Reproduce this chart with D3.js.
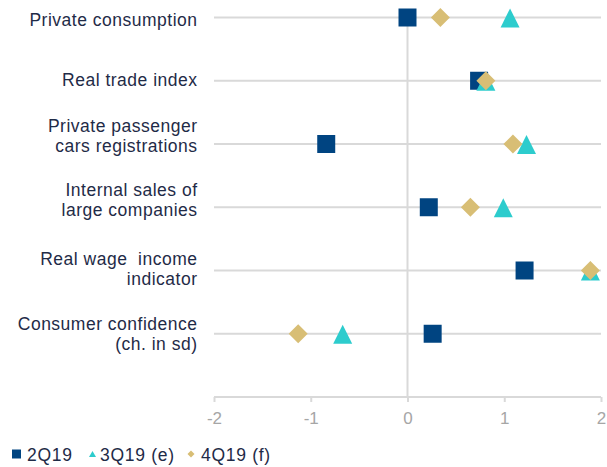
<!DOCTYPE html>
<html>
<head>
<meta charset="utf-8">
<script src="https://cdn.jsdelivr.net/npm/d3@7"></script>
<style>
  body { margin: 0; background: #fff; }
  svg { font-family: "Liberation Sans", Arial, sans-serif; }
  .cat-label { fill: #1f2b47; font-size: 17.5px; letter-spacing: 0.5px; }
  .tick-label { fill: #a6a6a6; font-size: 17px; }
  .legend-text { fill: #1f2b47; font-size: 17.5px; letter-spacing: 0.7px; }
</style>
</head>
<body>
<svg id="chart" width="607" height="467"></svg>
<script>
// Data
const categories = [
    ['Private consumption'],
    ['Real trade index'],
    ['Private passenger', 'cars registrations'],
    ['Internal sales of', 'large companies'],
    ['Real wage  income', 'indicator'],
    ['Consumer confidence', '(ch. in sd)']
];
const q2 = [0.0, 0.74, -0.84, 0.22, 1.21, 0.26];
const q3 = [1.06, 0.81, 1.23, 0.99, 1.89, -0.67];
const q4 = [0.34, 0.81, 1.09, 0.65, 1.89, -1.13];
const xTicks = [-2, -1, 0, 1, 2];
const seriesNames = ['2Q19', '3Q19 (e)', '4Q19 (f)'];

const svg = d3.select('#chart');
const colors = { sq: '#004481', tri: '#2dcccd', dia: '#d8be75' };

const x = d3.scaleLinear().domain([-2, 2]).range([214, 601]);
const y = d3.scaleLinear().domain([0, 6]).range([397, 17.5]);
const rowY = i => y(categories.length - i);

// small vertical nudges so the labels sit like the original
const labelNudge = [2, -1, -8, -7, -2, 0];

// Gridlines
svg.selectAll('.grid')
    .data(categories)
    .enter()
    .append('line')
    .attr('x1', x(-2))
    .attr('x2', x(2))
    .attr('y1', (d, i) => rowY(i))
    .attr('y2', (d, i) => rowY(i))
    .attr('stroke', '#d9d9d9')
    .attr('stroke-width', 2);

// Vertical zero line
svg.append('line')
    .attr('x1', x(0)).attr('x2', x(0))
    .attr('y1', y(6.1)).attr('y2', y(0))
    .attr('stroke', '#d9d9d9')
    .attr('stroke-width', 2);

// X axis
const xAxis = svg.append('g')
    .attr('transform', `translate(0,${y(0)})`)
    .call(d3.axisBottom(x).tickValues(xTicks).tickSize(5).tickFormat(d3.format('d')));
xAxis.select('.domain').attr('stroke', '#d9d9d9').attr('stroke-width', 2).attr('d', `M${x(-2)},0H${x(2)}`);
xAxis.selectAll('.tick line').attr('stroke', '#d9d9d9').attr('stroke-width', 2);
xAxis.selectAll('.tick text')
    .attr('class', 'tick-label')
    .attr('fill', null)
    .attr('font-size', null)
    .attr('font-family', null)
    .attr('dy', '0.32em')
    .attr('y', 22)
    .text(d => d < 0 ? '-' + Math.abs(d) : d);

// Category labels
categories.forEach((lines, i) => {
    const t = svg.append('text')
        .attr('class', 'cat-label')
        .attr('text-anchor', 'end')
        .attr('xml:space', 'preserve')
        .attr('y', rowY(i) + labelNudge[i] - (lines.length - 1) * 10);
    lines.forEach((l, j) => {
        t.append('tspan')
            .attr('x', 197.5)
            .attr('dy', j === 0 ? '0.35em' : 20)
            .text(l);
    });
});

// Marker shapes
const square = s => `M${-s},${-s}H${s}V${s}H${-s}Z`;
const triangle = (w, up, down) => `M0,${-up}L${w},${down}L${-w},${down}Z`;
const diamond = r => `M0,${-r}L${r},0L0,${r}L${-r},0Z`;

svg.selectAll('.m-sq')
    .data(q2)
    .enter()
    .append('path')
    .attr('d', square(9))
    .attr('fill', colors.sq)
    .attr('transform', (d, i) => `translate(${x(d)},${rowY(i)})`);

svg.selectAll('.m-tri')
    .data(q3)
    .enter()
    .append('path')
    .attr('d', triangle(9.5, 9, 10))
    .attr('fill', colors.tri)
    .attr('transform', (d, i) => `translate(${x(d)},${rowY(i)})`);

svg.selectAll('.m-dia')
    .data(q4)
    .enter()
    .append('path')
    .attr('d', diamond(9.5))
    .attr('fill', colors.dia)
    .attr('transform', (d, i) => `translate(${x(d)},${rowY(i)})`);

// Legend
const legend = [
    { name: seriesNames[0], shape: square(4.5), color: colors.sq, mx: 16.5, tx: 27 },
    { name: seriesNames[1], shape: triangle(3.5, 3, 3), color: colors.tri, mx: 92.5, tx: 100 },
    { name: seriesNames[2], shape: diamond(3.5), color: colors.dia, mx: 191, tx: 201 }
];
const lg = svg.append('g').attr('transform', 'translate(0,455)');
legend.forEach(d => {
    lg.append('path')
        .attr('d', d.shape)
        .attr('fill', d.color)
        .attr('transform', `translate(${d.mx},-1)`);
    lg.append('text')
        .attr('class', 'legend-text')
        .attr('x', d.tx)
        .attr('dy', '0.35em')
        .text(d.name);
});
</script>
</body>
</html>
